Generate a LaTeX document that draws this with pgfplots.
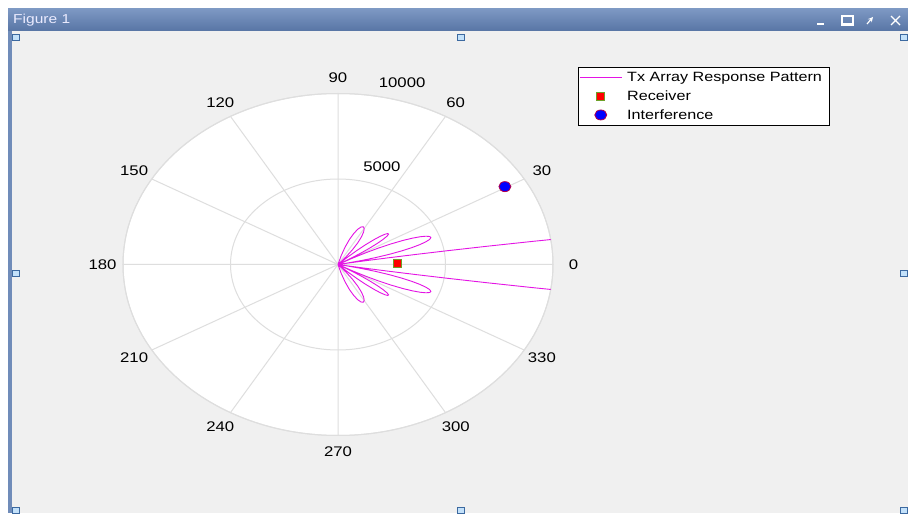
\documentclass[border=0pt]{standalone}
\usepackage{pgfplots}
\pgfplotsset{compat=1.18}
\usepgfplotslibrary{polar}
\usepackage{fontspec}
\setmainfont[FakeStretch=1.2]{Liberation Sans}
\definecolor{figbg}{RGB}{240,240,240}
\definecolor{gridgray}{RGB}{222,222,222}
\definecolor{titleA}{RGB}{125,152,195}
\definecolor{titleB}{RGB}{88,117,165}
\definecolor{borderblue}{RGB}{112,140,185}
\definecolor{handlefill}{RGB}{195,225,250}
\definecolor{handleedge}{RGB}{60,105,160}
\definecolor{edgegreen}{RGB}{110,160,40}
\definecolor{mag}{RGB}{228,20,228}
\pgfplotsset{
  mylinelegend/.style={legend image code/.code={\draw[mag, line width=0.9bp] (0bp,0bp) -- (42bp,0bp);}},
  mymarklegend/.style={legend image code/.code={\draw[#1] plot coordinates {(21bp,0bp)};}},
}

\pgfplotstableread{
ang r
-90 0
-76 0
-74 556
-72 1085
-70 1559
-68 1955
-66 2252
-64 2437
-62 2500
-60 2437
-58 2252
-56 1955
-54 1559
-52 1085
-50 556
-48 0
-45 0
-44 615
-43 1204
-42 1740
-41 2200
-40 2563
-39 2815
-38 2944
-37 2944
-36 2815
-35 2563
-34 2200
-33 1740
-32 1204
-31 615
-30 0
-29 739
-28 1460
-27 2138
-26 2756
-25 3317
-24 3786
-23 4157
-22 4418
-21 4566
-20 4596
-19 4507
-18 4301
-17 3984
-16 3563
-15 3050
-14 2459
-13 1803
-12 1101
-11 370
-10.5 0
-10.25 146
-10 584
-9.75 1313
-9.5 2324
-9.25 3611
-9 5183
-8.75 7013
-8.5 9100
-8.25 11415
-8 13970
-7.5 19710
-7 26175
-6 40700
-3 84990
0 104700
3 84990
6 40700
7 26175
7.5 19710
8 13970
8.25 11415
8.5 9100
8.75 7013
9 5183
9.25 3611
9.5 2324
9.75 1313
10 584
10.25 146
10.5 0
11 370
12 1101
13 1803
14 2459
15 3050
16 3563
17 3984
18 4301
19 4507
20 4596
21 4566
22 4418
23 4157
24 3786
25 3317
26 2756
27 2138
28 1460
29 739
30 0
31 615
32 1204
33 1740
34 2200
35 2563
36 2815
37 2944
38 2944
39 2815
40 2563
41 2200
42 1740
43 1204
44 615
45 0
48 0
50 556
52 1085
54 1559
56 1955
58 2252
60 2437
62 2500
64 2437
66 2252
68 1955
70 1559
72 1085
74 556
76 0
90 0
}\pattern

\begin{document}
\begin{tikzpicture}
% window
\fill[white] (0bp,0bp) rectangle (908bp,513bp);
\fill[figbg] (12bp,0bp) rectangle (908bp,482bp);
\shade[top color=titleA, bottom color=titleB] (8bp,482bp) rectangle (908bp,504bp);
\fill[borderblue] (8bp,0bp) rectangle (12bp,482bp);
\node[anchor=west, text=white!92!blue, font=\fontsize{13}{15}\selectfont, inner sep=0pt] at (13bp,493bp) {Figure 1};
\draw[white, line width=1.5bp] (817bp,489bp) -- (824bp,489bp);
\draw[white, line width=1.2bp] (842bp,488bp) rectangle (853bp,497bp);
\draw[white, line width=1.2bp] (843bp,489bp) -- (852bp,489bp);
\draw[white, line width=1.2bp, -stealth] (867bp,489bp) -- (873bp,496bp);
\draw[white, line width=1.3bp] (891bp,488bp) -- (900bp,497bp) (891bp,497bp) -- (900bp,488bp);
\foreach \hx/\hy in {16/476, 461/476, 904/476, 16/240, 904/240, 16/3, 461/3, 904/3}{
  \filldraw[fill=handlefill, draw=handleedge, line width=0.8bp] (\hx bp-3.5bp,\hy bp-3bp) rectangle (\hx bp+3.5bp,\hy bp+3bp);
}
\begin{polaraxis}[
  scale only axis, width=430bp, height=342bp, scale mode=stretch to fill,
  at={(338bp,248.5bp)}, anchor=center,
  xmin=0, xmax=360, ymin=0, ymax=10000,
  xtick={0,30,...,330}, ytick={5000,10000},
  xticklabels={}, yticklabels={},
  scaled y ticks=false,
  xmajorgrids, ymajorgrids,
  major grid style={draw=gridgray, line width=1bp},
  axis line style={draw=gridgray, line width=1bp},
  axis background/.style={fill=white},
  tick style={draw=none},
  clip mode=individual,
  /pgf/number format/assume math mode=true,
  legend cell align=left,
  legend style={at={(1.058,1.0775)}, anchor=north west, draw=black, fill=white,
    line width=0.8bp, font=\fontsize{13.5}{15}\selectfont,
    inner xsep=1bp, inner ysep=3bp, row sep=3.5bp, column sep=3bp,
    nodes={inner xsep=2bp}},
]
\addplot[mag, line width=0.9bp, no markers, mylinelegend]
  table[x=ang, y=r] {\pattern};
\addlegendentry{Tx Array Response Pattern\rule{5bp}{0pt}}
\addplot[only marks, mark=square*, mark size=4bp, mark options={fill=red, draw=edgegreen, line width=0.8bp}, mymarklegend]
  coordinates {(1,2750)};
\addlegendentry{Receiver}
\addplot[only marks, mark=*, mark size=5bp, mark options={fill=blue, draw=red!70!blue, line width=0.8bp, xscale=1.2}, mymarklegend]
  coordinates {(30.4,9000)};
\addlegendentry{Interference}
\begin{scope}[font=\fontsize{14}{16}\selectfont]
\node at (axis cs:0,10950) {0};
\node at (axis cs:30,10950) {30};
\node at (axis cs:60,10950) {60};
\node at (axis cs:90,10950) {90};
\node at (axis cs:120,10950) {120};
\node at (axis cs:150,10950) {150};
\node at (axis cs:180,10950) {180};
\node at (axis cs:210,10950) {210};
\node at (axis cs:240,10950) {240};
\node at (axis cs:270,10950) {270};
\node at (axis cs:300,10950) {300};
\node at (axis cs:330,10950) {330};
\node at (axis cs:70.3,6058) {5000};
\node at (axis cs:74.3,11024) {10000};
\end{scope}
\end{polaraxis}
\end{tikzpicture}
\end{document}
